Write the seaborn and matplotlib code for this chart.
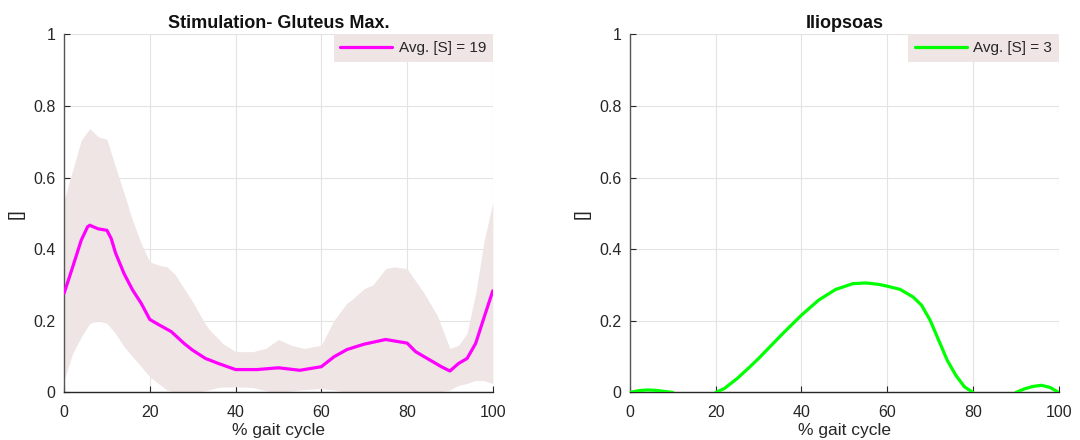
import numpy as np
import pandas as pd
import matplotlib
matplotlib.use("Agg")
import matplotlib.pyplot as plt
import seaborn as sns

# Gluteus maximus stimulation: mean and spread band over the gait cycle
glut_x = [0, 2, 4, 5.5, 6, 8, 10, 11, 12, 14, 16, 18, 20, 22, 25, 28, 30, 33, 36, 40, 45,
          50, 55, 60, 63, 66, 70, 75, 80, 82, 86, 88, 90, 92, 94, 96, 98, 100]
glut_mean = [0.277, 0.35, 0.425, 0.463, 0.467, 0.457, 0.453, 0.43, 0.39, 0.332, 0.286,
             0.249, 0.204, 0.19, 0.17, 0.137, 0.118, 0.095, 0.081, 0.064, 0.064, 0.069,
             0.062, 0.072, 0.10, 0.12, 0.135, 0.148, 0.138, 0.114, 0.086, 0.072, 0.06,
             0.081, 0.095, 0.137, 0.211, 0.284]

band_x = [0, 2, 4, 6, 8, 10, 12, 14, 16, 18, 20, 22, 24, 26, 30, 33, 34, 36, 37, 40, 44,
          47, 50, 53, 55, 56, 60, 63, 66, 67, 70, 72, 75, 77, 80, 84, 87, 90, 92, 94, 96,
          98, 100]
band_upper = [0.537, 0.62, 0.705, 0.737, 0.714, 0.707, 0.63, 0.556, 0.48, 0.416, 0.365,
              0.356, 0.351, 0.328, 0.253, 0.19, 0.174, 0.15, 0.137, 0.114, 0.114, 0.123,
              0.148, 0.132, 0.126, 0.123, 0.132, 0.202, 0.25, 0.258, 0.29, 0.30, 0.346,
              0.351, 0.346, 0.277, 0.216, 0.123, 0.132, 0.165, 0.277, 0.425, 0.53]
band_lower = [0.034, 0.109, 0.155, 0.193, 0.20, 0.193, 0.165, 0.128, 0.10, 0.072, 0.044,
              0.025, 0.007, 0.0, 0.0, 0.005, 0.008, 0.014, 0.015, 0.016, 0.014, 0.005,
              0.0, 0.004, 0.007, 0.008, 0.011, 0.007, 0.0, 0.0, 0.0, 0.0, 0.0, 0.0, 0.0,
              0.0, 0.0, 0.007, 0.02, 0.025, 0.034, 0.033, 0.025]

# Iliopsoas stimulation: three active segments of the gait cycle
ilio_x = [0, 2, 4, 6, 8, 10,
          20, 22, 25, 28, 30, 33, 36, 40, 44, 48, 52, 55, 58, 60, 63, 66, 68, 70, 72, 74,
          76, 78, 80,
          90, 92, 94, 96, 98, 100]
ilio_mean = [0.0, 0.005, 0.007, 0.006, 0.003, 0.0,
             0.0, 0.011, 0.039, 0.072, 0.095, 0.132, 0.169, 0.216, 0.258, 0.288, 0.304,
             0.306, 0.302, 0.297, 0.288, 0.267, 0.244, 0.202, 0.146, 0.09, 0.048, 0.016,
             0.0,
             0.0, 0.01, 0.017, 0.02, 0.014, 0.0]
ilio_segment = [0] * 6 + [1] * 23 + [2] * 6

titles = ["Stimulation- Gluteus Max.", "Iliopsoas"]
legend_labels = ["Avg. [S] = 19", "Avg. [S] = 3"]
x_ticks = [0, 20, 40, 60, 80, 100]
y_ticks = [0, 0.2, 0.4, 0.6, 0.8, 1]
y_tick_labels = ["0", "0.2", "0.4", "0.6", "0.8", "1"]

MAGENTA = "#ff00ff"
GREEN = "#00ff00"
BAND = "#eee5e4"
TEXT = "#262626"

sns.set_theme(style="white")
plt.rcParams["font.family"] = ["Liberation Sans", "DejaVu Sans"]

fig = plt.figure(figsize=(10.8, 4.4), dpi=100)
ax1 = fig.add_axes([0.0593, 0.108, 0.397, 0.8136])
ax2 = fig.add_axes([0.5833, 0.108, 0.397, 0.8136])

# Left panel
ax1.fill_between(band_x, band_lower, band_upper, color=BAND, linewidth=0, zorder=1)
glut_df = pd.DataFrame({"x": glut_x, "y": glut_mean})
sns.lineplot(data=glut_df, x="x", y="y", ax=ax1, color=MAGENTA, linewidth=2.3,
             label=legend_labels[0], zorder=3)

# Right panel: each active segment drawn as its own line
ilio_df = pd.DataFrame({"x": ilio_x, "y": ilio_mean, "seg": ilio_segment})
for i, (seg, part) in enumerate(ilio_df.groupby("seg")):
    sns.lineplot(data=part, x="x", y="y", ax=ax2, color=GREEN, linewidth=2.3,
                 label=legend_labels[1] if i == 0 else None, zorder=3)

for ax, title in zip([ax1, ax2], titles):
    ax.set_xlim(0, 100)
    ax.set_ylim(0, 1)
    ax.set_xticks(x_ticks)
    ax.set_yticks(y_ticks)
    ax.set_yticklabels(y_tick_labels)
    ax.grid(True, color="#e3e3e3", linewidth=0.8, zorder=0)
    ax.set_axisbelow(True)
    for side in ["top", "right"]:
        ax.spines[side].set_visible(False)
    ax.spines["left"].set_color("#555555")
    ax.spines["bottom"].set_color("#262626")
    ax.spines["left"].set_linewidth(1.0)
    ax.spines["bottom"].set_linewidth(1.0)
    ax.tick_params(axis="both", direction="in", length=4, width=0.8, colors=TEXT,
                   labelsize=11.5, left=True, bottom=True)
    ax.tick_params(axis="x", pad=9)
    ax.tick_params(axis="y", pad=6)
    ax.set_title(title, fontsize=13, fontweight="bold", color="#111111", pad=5)
    ax.set_xlabel("% gait cycle", fontsize=12.5, color=TEXT, labelpad=2)
    ax.set_ylabel("[]", fontsize=14, color=TEXT, labelpad=6)
    leg = ax.legend(loc="upper right", frameon=True, fancybox=False,
                    borderaxespad=0.0, handlelength=3.4, fontsize=11,
                    borderpad=0.45, handletextpad=0.4)
    frame = leg.get_frame()
    frame.set_facecolor(BAND)
    frame.set_edgecolor("none")
    frame.set_alpha(1.0)
    for t in leg.get_texts():
        t.set_color(TEXT)

fig.savefig("out.png", dpi=100, facecolor="white")
